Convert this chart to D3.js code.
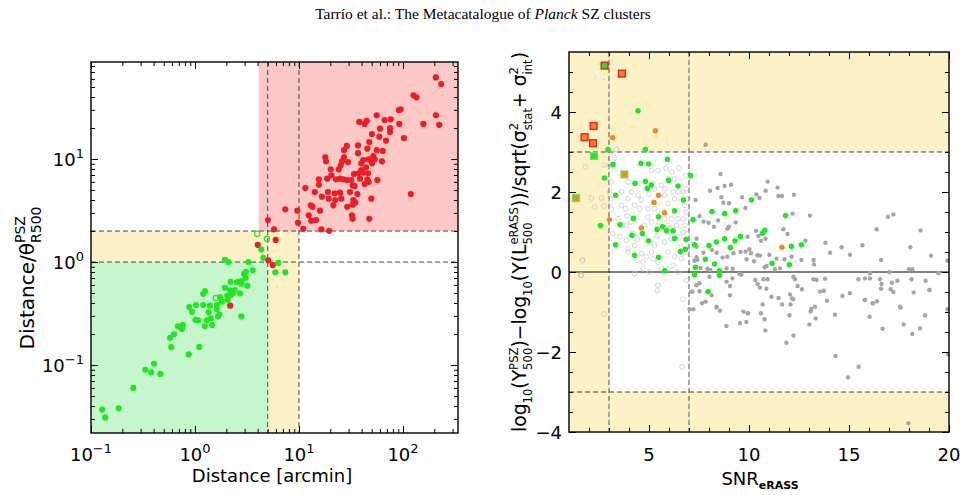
<!DOCTYPE html>
<html>
<head>
<meta charset="utf-8">
<script src="https://cdn.jsdelivr.net/npm/d3@7"></script>
<style>
  body { margin: 0; background: #fff; }
  svg { display: block; font-family: 'DejaVu Sans', sans-serif; }
  .title { font-family: 'Liberation Serif', 'Times New Roman', serif; font-size: 15.5px; }
  .tick line { stroke: #000; stroke-width: 1; }
</style>
</head>
<body>
<svg id="chart" width="966" height="495"></svg>
<script>
// ---- data ----
// left panel: [distance in arcmin, distance / theta_R500]
var redPoints = [[207,62],[233,53.5],[126,41.5],[135,39.7],[91,29.9],[95,30.4],[207,26.6],[55.9,26.6],[66.7,23.9],[76.2,24.3],[38,22.9],[42.8,21.9],[44.8,23.5],[92.1,21.9],[157,21.9],[223,21.5],[60.1,19.7],[75,20],[75,18.3],[50.3,17.5],[59.2,16.5],[68.7,15.1],[102,16],[47.4,14.6],[36.9,13.6],[28.8,13.4],[27.1,12.2],[45.4,12.6],[55.9,12.2],[63.8,12],[36.9,11.4],[51.8,10.7],[41.5,9.78],[46.8,9.94],[53.5,9.94],[62.8,9.5],[17.9,10.4],[18.2,9.5],[25.9,9.5],[27.1,10.4],[29.6,9.35],[25.2,8.69],[39.7,9.08],[50.3,9.08],[20.2,7.94],[24.1,7.94],[44.1,8.3],[39.7,7.82],[33.8,7.15],[37.5,7.26],[41.5,7.36],[46.1,7.26],[20.5,6.95],[18.7,6.44],[22.7,6.35],[24.8,6.44],[26.7,6.35],[28.8,6.25],[31.8,6.25],[38.6,6.44],[45.4,6.35],[56.6,6.25],[15.5,6.35],[15.5,5.63],[32.8,5.55],[34.3,5.47],[42.8,5.72],[46.8,5.98],[11.5,5.23],[14.2,4.78],[19,4.78],[22,4.65],[24.8,4.71],[30.9,4.78],[36.4,4.57],[119,4.57],[16.6,4.31],[19.3,4.12],[22.3,4],[25.5,4.12],[33.3,4],[49.6,4.12],[34.8,3.77],[13,3.55],[13.5,3.44],[21.4,3.55],[29.1,3.44],[32.8,3.6],[15.9,3.15],[7.38,3.25],[9.63,3.15],[12.4,2.84],[32.3,2.84],[32.8,2.63],[47.4,2.63],[13.1,2.52],[14.6,2.56],[5.03,2.56],[9.78,2.41],[5.75,2.08],[11,2.1],[16.4,2.08],[19.5,2.01],[5.97,1.64],[4.01,1.47],[5.07,1.04],[5.59,0.935],[2.18,0.377]];
var greenPoints = [[4.34,1.33],[4.54,1.10],[6.32,0.98],[5.92,0.794],[7.38,0.794],[1.94,1.05],[2.09,1.0],[3.26,1.0],[3.59,0.831],[3.09,0.805],[2.96,0.770],[3.07,0.704],[2.81,0.654],[2.63,0.644],[2.52,0.635],[2.79,0.616],[3.18,0.589],[2.20,0.644],[1.94,0.563],[2.17,0.531],[2.41,0.535],[2.33,0.500],[2.04,0.471],[2.71,0.497],[2.20,0.478],[1.25,0.523],[1.20,0.492],[1.74,0.457],[1.81,0.412],[2.06,0.431],[1.39,0.377],[1.20,0.383],[1.02,0.383],[0.881,0.366],[0.936,0.329],[1.62,0.383],[1.62,0.350],[1.71,0.311],[1.66,0.297],[1.35,0.325],[1.42,0.284],[1.30,0.272],[1.46,0.245],[1.24,0.238],[1.01,0.275],[1.07,0.272],[2.79,0.297],[0.762,0.245],[0.718,0.234],[0.686,0.238],[0.750,0.224],[0.628,0.199],[0.575,0.184],[0.592,0.149],[1.10,0.150],[0.870,0.127],[0.404,0.103],[0.333,0.090],[0.378,0.085],[0.464,0.082],[0.255,0.060],[0.185,0.038],[0.128,0.037],[0.137,0.031]];
var greenOpenPoints = [[3.97,1.88],[4.92,1.68],[1.59,0.447]];

// right panel: [SNR_eRASS, normalised Y deviation]
var grayPoints = [[7.83,3.18],[8.58,2.45],[8.05,2.03],[8.43,2.1],[8.78,2.15],[9.1,2.18],[10.93,2.26],[10.83,2.03],[11.43,2.11],[11.47,1.9],[11.65,1.9],[12.25,1.93],[10.37,1.94],[10.52,1.85],[9.65,1.87],[8.62,1.87],[8.72,1.73],[9.0,1.72],[9.82,1.6],[7.33,1.8],[7.53,1.4],[7.73,1.26],[8.25,1.13],[8.45,1.29],[7.98,1.23],[8.92,1.08],[9.0,1.13],[9.33,1.24],[9.93,0.88],[10.35,1.03],[10.6,0.78],[10.83,0.83],[11.72,1.07],[11.93,0.95],[12.18,1.46],[13.05,1.41],[12.82,0.78],[13.82,0.73],[14.63,0.62],[15.67,0.67],[16.38,1.07],[16.95,1.38],[17.22,1.44],[18.07,0.62],[18.58,1.04],[19.1,0.41],[19.92,0.28],[16.6,0.3],[15.05,0.43],[14.05,0.48],[13.23,0.3],[13.25,0.19],[12.62,0.3],[12.13,0.38],[11.77,0.32],[11.38,0.33],[11.02,0.43],[10.42,0.42],[10.1,0.47],[9.83,0.51],[9.88,0.32],[10.25,0.27],[10.55,0.41],[10.88,0.15],[10.78,0.12],[11.3,0.07],[11.55,0.09],[10.47,0.9],[9.55,0.9],[10.02,0.57],[9.58,0.5],[9.22,0.47],[8.92,0.38],[8.68,0.36],[8.38,0.48],[8.15,0.55],[7.72,0.48],[7.38,0.37],[7.42,0.3],[7.58,0.1],[7.92,0.08],[8.07,0.05],[8.88,0.09],[9.18,0.08],[9.52,-0.05],[9.62,-0.07],[9.17,-0.16],[8.88,-0.24],[9.05,-0.35],[8.02,-0.12],[7.52,-0.28],[7.37,-0.33],[7.17,-0.49],[7.53,-0.48],[8.13,-0.58],[7.65,-0.78],[7.83,-0.74],[8.38,-0.87],[8.55,-0.97],[7.22,-0.93],[9.05,-0.58],[9.72,-0.99],[9.93,-1.03],[9.55,-1.28],[9.87,-1.25],[8.87,-1.35],[10.32,-0.2],[10.43,-0.3],[10.72,-0.18],[10.93,-0.18],[10.55,-0.39],[10.87,-0.42],[11.12,-0.62],[11.48,-0.65],[12.05,-0.56],[12.15,-0.66],[12.22,-0.68],[10.68,-0.81],[11.65,-0.81],[12.08,-0.81],[12.22,-0.12],[12.3,-0.18],[12.43,-0.35],[12.65,-0.43],[13.22,-0.18],[13.38,-0.2],[13.8,-0.17],[13.55,-0.49],[13.75,-0.47],[13.9,-0.72],[13.3,-0.87],[13.08,-0.99],[13.33,-1.16],[12.03,-1.08],[10.6,-1.03],[10.78,-1.18],[10.82,-1.46],[12.22,-1.59],[14.3,-1.07],[14.67,-0.6],[15.05,-0.53],[15.47,-0.18],[15.8,-0.16],[16.05,-0.03],[16.05,-0.16],[16.55,-0.18],[16.63,-0.3],[16.6,-0.42],[17.08,-0.43],[17.15,-0.27],[17.02,0],[17.42,-0.22],[17.22,-0.5],[18.0,0.07],[18.17,0.07],[18.13,-0.18],[18.23,-0.51],[18.83,-0.22],[19.02,-0.45],[18.8,-1.08],[19.47,-0.03],[17.55,-0.87],[16.18,-0.78],[15.8,-0.7],[16.03,-1.12],[16.68,-1.42],[17.73,-1.31],[18.17,-1.55],[18.55,-1.41],[13.02,-1.31],[16.4,-0.73],[11.87,-1.77],[14.32,-2.1],[15.48,-2.37],[14.95,-2.63],[19.95,-2.06],[19.92,-0.93],[17.97,-3.78],[7.03,-0.93],[8.37,-0.88],[9.95,-1.03],[13.12,-0.92],[16.2,-0.78],[17.58,-0.89],[19.03,-0.45],[7.12,-0.49],[15.78,-0.7],[7.38,0.83],[7.38,0.63],[7.27,0.28]];
var grayOpenPoints = [[3.38,3.07],[3.08,3.0],[1.82,2.63],[2.75,2.67],[2.12,1.85],[2.62,1.85],[2.75,1.65],[2.28,1.62],[1.68,0.29],[1.62,-0.08],[3.03,2.67],[3.12,2.25],[3.03,2.0],[3.08,1.83],[3.12,1.58],[3.62,2.0],[3.95,1.83],[4.12,2.0],[3.62,1.67],[3.82,1.58],[3.45,1.33],[3.62,1.17],[3.2,0.96],[3.53,0.88],[3.87,0.79],[3.95,0.58],[3.95,0.5],[4.28,0.67],[4.37,0.29],[4.7,0.25],[4.62,0.46],[4.53,1.58],[4.95,1.58],[5.28,1.58],[4.95,1.38],[5.12,1.25],[4.78,1.17],[5.45,1.17],[5.45,2.53],[5.85,2.6],[6.12,2.5],[5.95,2.33],[6.28,2.33],[5.62,2.17],[5.78,2.08],[6.2,2.0],[6.45,2.0],[5.78,1.92],[6.28,1.83],[5.95,1.71],[6.7,2.0],[6.78,1.67],[5.78,1.33],[6.12,1.33],[6.45,1.33],[6.7,1.33],[6.87,1.5],[5.95,1.17],[6.37,1.17],[6.78,1.17],[6.7,1.0],[6.53,0.88],[6.12,0.83],[5.78,0.75],[5.28,0.67],[5.12,0.5],[4.87,0.38],[5.2,0.33],[5.45,0.25],[5.95,0.5],[6.28,0.38],[6.62,0.33],[6.87,0.5],[6.2,0.17],[5.95,0.08],[6.45,0.0],[5.03,0.0],[4.28,-0.04],[5.45,-0.33],[6.87,-0.21],[4.7,0.08],[5.62,0.08],[4.2,0.96],[3.87,1.17],[4.28,1.67],[4.45,1.92],[5.28,2.08],[6.87,2.08],[6.95,1.83],[3.95,2.25],[5.12,2.54],[4.53,2.21],[5.42,-0.47],[6.65,-2.37],[2.75,-1.05],[6.7,-0.68],[1.58,-0.08],[1.67,0.3],[3.3,2.85],[3.9,1.4],[4.1,1.25],[4.6,1.8],[5.0,1.95],[5.6,1.45],[6.05,1.1],[6.6,0.65],[5.4,0.9],[4.4,0.82],[6.9,0.95],[6.85,2.4],[6.5,2.6]];
var greenRightPoints = [[4.45,4.03],[2.95,3.06],[4.82,3.06],[3.2,2.69],[4.6,2.72],[4.98,2.7],[5.92,2.82],[2.77,2.35],[4.3,2.22],[4.82,2.27],[5.12,2.18],[4.92,2.09],[5.98,2.29],[6.45,2.15],[7.08,2.41],[6.72,1.8],[3.33,1.92],[6.28,1.53],[5.48,1.38],[2.57,1.16],[3.55,1.18],[4.22,1.34],[4.67,0.96],[5.4,1.06],[5.68,1.13],[5.88,1.03],[6.2,1.03],[4.15,0.92],[4.97,0.78],[6.28,0.84],[6.85,0.81],[3.33,0.68],[4.28,0.42],[5.48,0.37],[6.57,0.51],[6.82,0.57],[7.2,1.31],[7.28,0.68],[5.78,0.03],[7.32,0.12],[7.28,-0.07],[10.13,1.8],[8.15,1.51],[8.78,1.46],[9.33,1.53],[11.83,1.41],[10.78,1.04],[10.68,0.97],[9.57,0.89],[9.3,0.78],[8.78,0.83],[8.37,0.75],[9.07,0.61],[8.0,0.66],[12.12,0.64],[12.62,0.68],[11.15,0.22],[12.02,0.18],[7.82,0.32],[8.28,0.2],[8.52,0.03],[8.52,-0.08],[7.95,-0.49]];
var orangePoints = [[3.18,3.36],[5.32,3.53],[5.48,1.92],[5.25,1.74],[5.78,1.48],[3.02,1.31],[4.62,1.10],[11.65,0.62]];
var redBoxOrange = [[3.65,4.96],[2.23,3.65],[1.78,3.37],[2.2,3.22]];
var redBoxGreen = [[2.78,5.16]];
var greenBoxOrange = [[3.77,2.44],[1.35,1.85]];
var greenBoxGreen = [[2.25,2.9]];

// thresholds and ticks
var distCuts = [5, 10];
var ratioCuts = [1, 2];
var redRegionStart = 4.1;
var snrCuts = [3, 7];
var devCut = 3;
var leftXTicks = [0.1, 1, 10, 100];
var leftXTickLabels = ['\u22121', '0', '1', '2'];
var leftYTicks = [0.1, 1, 10];
var leftYTickLabels = ['\u22121', '0', '1'];
var rightXTicks = [5, 10, 15, 20];
var rightYTicks = [-4, -2, 0, 2, 4];

var colRed = '#ee1c25', colGreen = '#22e622', colOrange = '#f5871f', colGray = '#a6a6a6';

var svg = d3.select('#chart');
svg.append('rect').attr('width', 966).attr('height', 495).attr('fill', '#fff');

svg.append('text').attr('class', 'title')
    .attr('x', 483).attr('y', 19).attr('text-anchor', 'middle')
    .html('Tarr\u00edo et al.: The Metacatalogue of <tspan font-style="italic">Planck</tspan> SZ clusters');

// builds text with stacked super/subscripts, returns its width
function richText(parent, parts, size, scriptSize) {
    var text = parent.append('text').attr('font-size', size);
    var cursor = 0;
    scriptSize = scriptSize || size * 0.62;
    parts.forEach(function(p) {
        if (p.t !== undefined) {
            var ts = text.append('tspan').attr('x', cursor).attr('y', 0).text(p.t);
            cursor += ts.node().getComputedTextLength();
        } else {
            var w = 0;
            if (p.sup) {
                var a = text.append('tspan').attr('x', cursor).attr('y', -size * 0.45).attr('font-size', scriptSize).text(p.sup);
                w = Math.max(w, a.node().getComputedTextLength());
            }
            if (p.sub) {
                var b = text.append('tspan').attr('x', cursor).attr('y', size * 0.34).attr('font-size', scriptSize).text(p.sub);
                w = Math.max(w, b.node().getComputedTextLength());
            }
            cursor += w;
        }
    });
    return { node: text, width: cursor };
}

function dashed(x1, y1, x2, y2) {
    svg.append('line')
        .attr('x1', x1).attr('y1', y1).attr('x2', x2).attr('y2', y2)
        .attr('stroke', '#4a4a4a').attr('stroke-width', 1).attr('stroke-dasharray', '5,3');
}

// ================= left panel =================
var L = { left: 91, right: 458, top: 62, bottom: 433 };
var lx = d3.scaleLog().domain([0.1, 338]).range([L.left, L.right]);
var ly = d3.scaleLog().domain([0.0219, 87.5]).range([L.bottom, L.top]);

// shaded regions
svg.append('rect').attr('x', L.left).attr('y', ly(ratioCuts[0]))
    .attr('width', lx(distCuts[0]) - L.left).attr('height', L.bottom - ly(ratioCuts[0]))
    .attr('fill', '#c6f7cc');
svg.append('rect').attr('x', L.left).attr('y', ly(ratioCuts[1]))
    .attr('width', lx(distCuts[1]) - L.left).attr('height', ly(ratioCuts[0]) - ly(ratioCuts[1]))
    .attr('fill', '#fdf2c6');
svg.append('rect').attr('x', lx(distCuts[0])).attr('y', ly(ratioCuts[0]))
    .attr('width', lx(distCuts[1]) - lx(distCuts[0])).attr('height', L.bottom - ly(ratioCuts[0]))
    .attr('fill', '#fdf2c6');
svg.append('rect').attr('x', lx(redRegionStart)).attr('y', L.top)
    .attr('width', L.right - lx(redRegionStart)).attr('height', ly(ratioCuts[1]) - L.top)
    .attr('fill', '#fbc8c6');

distCuts.forEach(function(d) { dashed(lx(d), L.top, lx(d), L.bottom); });
ratioCuts.forEach(function(d) { dashed(L.left, ly(d), L.right, ly(d)); });

var leftPlot = svg.append('g');
leftPlot.selectAll('.gdot').data(greenPoints).enter().append('circle')
    .attr('cx', function(d) { return lx(d[0]); })
    .attr('cy', function(d) { return ly(d[1]); })
    .attr('r', 3.1).attr('fill', colGreen);
leftPlot.selectAll('.godot').data(greenOpenPoints).enter().append('circle')
    .attr('cx', function(d) { return lx(d[0]); })
    .attr('cy', function(d) { return ly(d[1]); })
    .attr('r', 2.7).attr('fill', 'none').attr('stroke', colGreen).attr('stroke-width', 1.2);
leftPlot.selectAll('.rdot').data(redPoints).enter().append('circle')
    .attr('cx', function(d) { return lx(d[0]); })
    .attr('cy', function(d) { return ly(d[1]); })
    .attr('r', 3.1).attr('fill', colRed);

// log minor ticks
function logMinors(lo, hi) {
    var out = [];
    for (var e = -3; e <= 3; e++) {
        for (var m = 2; m <= 9; m++) {
            var v = m * Math.pow(10, e);
            if (v > lo && v < hi) out.push(v);
        }
    }
    return out;
}

function addTicks(scale, orient, pos, major, minor) {
    var mk = { bottom: d3.axisBottom, top: d3.axisTop, left: d3.axisLeft, right: d3.axisRight }[orient];
    var t = (orient === 'left' || orient === 'right') ? 'translate(' + pos + ',0)' : 'translate(0,' + pos + ')';
    [[major, 7], [minor, 4]].forEach(function(set) {
        var g = svg.append('g').attr('transform', t)
            .call(mk(scale).tickValues(set[0]).tickSize(-set[1]).tickFormat(''));
        g.select('.domain').remove();
    });
}

var lxMinor = logMinors(0.1, 338), lyMinor = logMinors(0.0219, 87.5);
addTicks(lx, 'bottom', L.bottom, leftXTicks, lxMinor);
addTicks(lx, 'top', L.top, leftXTicks, lxMinor);
addTicks(ly, 'left', L.left, leftYTicks, lyMinor);
addTicks(ly, 'right', L.right, leftYTicks, lyMinor);

svg.append('rect').attr('x', L.left).attr('y', L.top)
    .attr('width', L.right - L.left).attr('height', L.bottom - L.top)
    .attr('fill', 'none').attr('stroke', '#000').attr('stroke-width', 1.4);

// power-of-ten labels
leftXTicks.forEach(function(v, i) {
    var t = svg.append('text').attr('x', lx(v)).attr('y', 461)
        .attr('text-anchor', 'middle').attr('font-size', 18);
    t.append('tspan').text('10');
    t.append('tspan').attr('dy', -8).attr('font-size', 13).text(leftXTickLabels[i]);
});
leftYTicks.forEach(function(v, i) {
    var t = svg.append('text').attr('x', 84).attr('y', ly(v) + 7)
        .attr('text-anchor', 'end').attr('font-size', 18);
    t.append('tspan').text('10');
    t.append('tspan').attr('dy', -8).attr('font-size', 13).text(leftYTickLabels[i]);
});

svg.append('text').attr('x', 272).attr('y', 482).attr('text-anchor', 'middle')
    .attr('font-size', 18).text('Distance [arcmin]');

var lyLab = svg.append('g');
var lyText = richText(lyLab, [{ t: 'Distance/\u03b8' }, { sup: 'PSZ', sub: 'R500' }], 20, 14);
lyLab.attr('transform', 'translate(34,' + (278 + lyText.width / 2) + ') rotate(-90)');

// ================= right panel =================
var R = { left: 569, right: 949, top: 52, bottom: 432 };
var rx = d3.scaleLinear().domain([1, 20]).range([R.left, R.right]);
var ry = d3.scaleLinear().domain([-4, 5.5]).range([R.bottom, R.top]);

svg.append('rect').attr('x', R.left).attr('y', R.top)
    .attr('width', R.right - R.left).attr('height', R.bottom - R.top).attr('fill', '#fdf2c6');
svg.append('rect').attr('x', rx(snrCuts[0])).attr('y', ry(devCut))
    .attr('width', R.right - rx(snrCuts[0])).attr('height', ry(-devCut) - ry(devCut)).attr('fill', '#fff');

snrCuts.forEach(function(d) { dashed(rx(d), R.top, rx(d), R.bottom); });
[devCut, -devCut].forEach(function(d) { dashed(R.left, ry(d), R.right, ry(d)); });
svg.append('line').attr('x1', R.left).attr('x2', R.right).attr('y1', ry(0)).attr('y2', ry(0))
    .attr('stroke', '#000').attr('stroke-width', 1);

var rightPlot = svg.append('g');
rightPlot.selectAll('.odot').data(grayOpenPoints).enter().append('circle')
    .attr('cx', function(d) { return rx(d[0]); })
    .attr('cy', function(d) { return ry(d[1]); })
    .attr('r', 2.4).attr('fill', 'none').attr('stroke', '#c4c4c4').attr('stroke-width', 0.7);
rightPlot.selectAll('.gydot').data(grayPoints).enter().append('circle')
    .attr('cx', function(d) { return rx(d[0]); })
    .attr('cy', function(d) { return ry(d[1]); })
    .attr('r', 2.2).attr('fill', colGray);
rightPlot.selectAll('.grdot').data(greenRightPoints).enter().append('circle')
    .attr('cx', function(d) { return rx(d[0]); })
    .attr('cy', function(d) { return ry(d[1]); })
    .attr('r', 2.8).attr('fill', colGreen);
rightPlot.selectAll('.ordot').data(orangePoints).enter().append('circle')
    .attr('cx', function(d) { return rx(d[0]); })
    .attr('cy', function(d) { return ry(d[1]); })
    .attr('r', 2.7).attr('fill', colOrange);

function boxes(data, fill, edge) {
    rightPlot.selectAll(null).data(data).enter().append('rect')
        .attr('x', function(d) { return rx(d[0]) - 3.4; })
        .attr('y', function(d) { return ry(d[1]) - 3.4; })
        .attr('width', 6.8).attr('height', 6.8)
        .attr('fill', fill).attr('stroke', edge).attr('stroke-width', 1.4);
}
boxes(redBoxOrange, colOrange, colRed);
boxes(redBoxGreen, colGreen, colRed);
boxes(greenBoxOrange, colOrange, '#5ee85e');
boxes(greenBoxGreen, colGreen, '#5ee85e');

var rxMinor = d3.range(2, 20).filter(function(v) { return v % 5 !== 0; });
var ryMinor = d3.range(-3.5, 5.5, 0.5).filter(function(v) { return v % 2 !== 0; });
addTicks(rx, 'bottom', R.bottom, rightXTicks, rxMinor);
addTicks(rx, 'top', R.top, rightXTicks, rxMinor);
addTicks(ry, 'left', R.left, rightYTicks, ryMinor);
addTicks(ry, 'right', R.right, rightYTicks, ryMinor);

svg.append('rect').attr('x', R.left).attr('y', R.top)
    .attr('width', R.right - R.left).attr('height', R.bottom - R.top)
    .attr('fill', 'none').attr('stroke', '#000').attr('stroke-width', 1.4);

rightXTicks.forEach(function(v) {
    svg.append('text').attr('x', rx(v)).attr('y', 461).attr('text-anchor', 'middle')
        .attr('font-size', 18).text(v);
});
rightYTicks.forEach(function(v) {
    svg.append('text').attr('x', 562).attr('y', ry(v) + 6.5).attr('text-anchor', 'end')
        .attr('font-size', 18).text(v < 0 ? '\u2212' + Math.abs(v) : v);
});

var snrLab = svg.append('text').attr('x', 760).attr('y', 485).attr('text-anchor', 'middle').attr('font-size', 18);
snrLab.append('tspan').text('SNR');
snrLab.append('tspan').attr('dy', 4).attr('font-size', 11).attr('font-weight', 'bold').text('eRASS');

var ryLab = svg.append('g');
var ryText = richText(ryLab, [
    { t: 'log' }, { sub: '10' }, { t: '(Y' }, { sup: 'PSZ', sub: '500' },
    { t: ')\u2212log' }, { sub: '10' }, { t: '(Y(L' }, { sup: 'eRASS', sub: '500' },
    { t: '))/sqrt(\u03c3' }, { sup: '2', sub: 'stat' }, { t: '+ \u03c3' }, { sup: '2', sub: 'int' }, { t: ')' }
], 16);
var fit = 380 / ryText.width;
ryLab.attr('transform', 'translate(526,' + (242 + 190) + ') rotate(-90) scale(' + fit + ')');
</script>
</body>
</html>
